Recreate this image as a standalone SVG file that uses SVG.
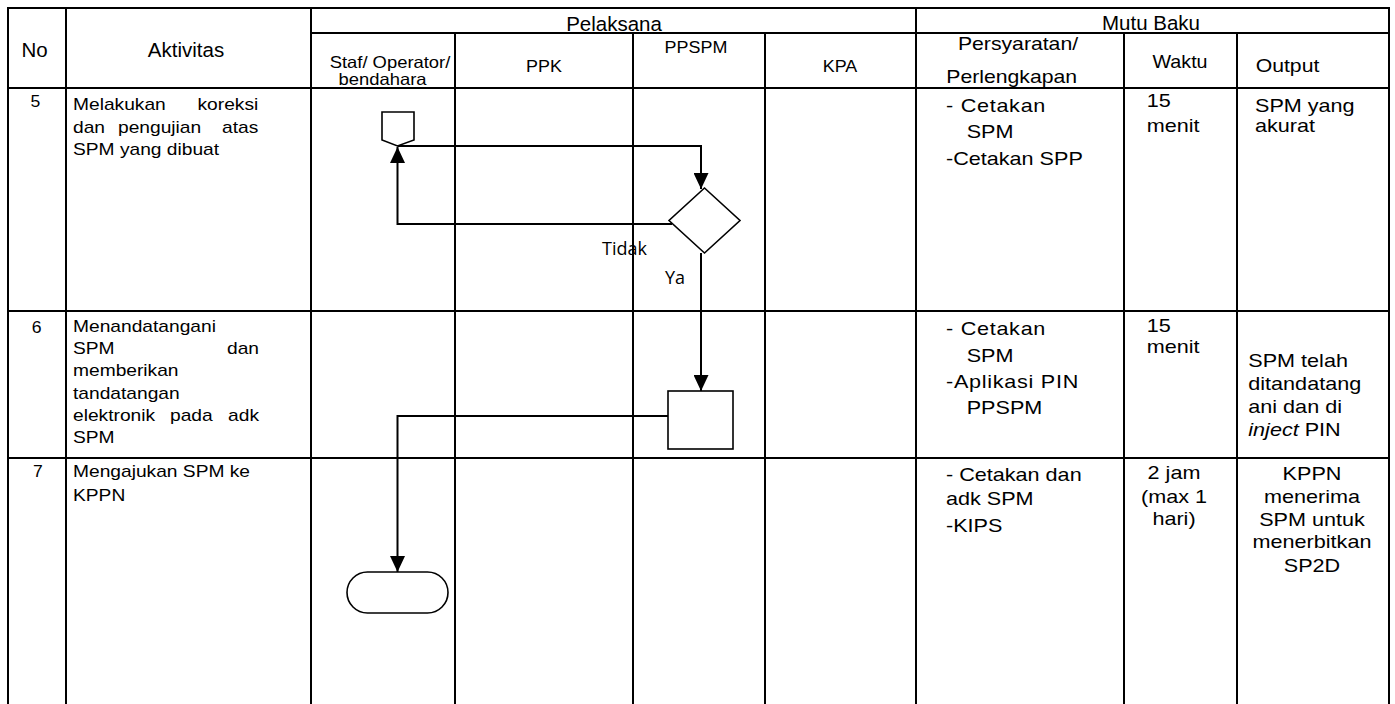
<svg xmlns="http://www.w3.org/2000/svg" width="1395" height="704" viewBox="0 0 1395 704">
<style>
.grid line{stroke:#000;stroke-width:2}
.shape{fill:#fff;stroke:#000;stroke-width:1.6}
.conn{fill:none;stroke:#000;stroke-width:2;marker-end:url(#arr)}
text{font-family:"Liberation Sans",Arial,sans-serif;fill:#000}
.h{font-size:20.5px}
.sh{font-size:16.3px}
.ph{font-size:18.6px}
.n{font-size:16px}
.b{font-size:16px}
.r{font-size:18px}
.sp{letter-spacing:0.6px}
.lbl{font-family:"Open Sans",sans-serif;font-size:18px}
.m{text-anchor:middle}
.e{text-anchor:end}
</style>
<defs>
<marker id="arr" viewBox="0 0 16 15" refX="16" refY="7.5" markerWidth="16" markerHeight="15" orient="auto" markerUnits="userSpaceOnUse"><path d="M0,0 L16,7.5 L0,15 z" fill="#000"/></marker>
</defs>
<rect width="1395" height="704" fill="#fff"/>
<g id="table" class="grid">
<line x1="7" y1="8" x2="1390" y2="8"/>
<line x1="311" y1="33" x2="1390" y2="33"/>
<line x1="7" y1="88" x2="1390" y2="88"/>
<line x1="7" y1="311" x2="1390" y2="311"/>
<line x1="7" y1="458" x2="1390" y2="458"/>
<line x1="8" y1="7" x2="8" y2="704"/>
<line x1="66" y1="8" x2="66" y2="704"/>
<line x1="311" y1="8" x2="311" y2="704"/>
<line x1="455" y1="33" x2="455" y2="704"/>
<line x1="633" y1="33" x2="633" y2="704"/>
<line x1="765" y1="33" x2="765" y2="704"/>
<line x1="916" y1="8" x2="916" y2="704"/>
<line x1="1124" y1="33" x2="1124" y2="704"/>
<line x1="1237" y1="33" x2="1237" y2="704"/>
<line x1="1389" y1="7" x2="1389" y2="704"/>
</g>
<g id="header">
<text class="h m" x="34.5" y="56.7">No</text>
<text class="h m" x="186" y="56.7">Aktivitas</text>
<text class="h m" x="614" y="30.5">Pelaksana</text>
<text class="h m" x="1151" y="30">Mutu Baku</text>
<text class="sh m" transform="translate(390 67.5) scale(1.13 1)">Staf/ Operator/</text>
<text class="sh m" transform="translate(382.5 85) scale(1.13 1)">bendahara</text>
<text class="sh m" transform="translate(544 71.7) scale(1.1 1)">PPK</text>
<text class="sh m" transform="translate(696 53.3) scale(1.1 1)">PPSPM</text>
<text class="sh m" transform="translate(840 71.7) scale(1.1 1)">KPA</text>
<text class="ph m" transform="translate(1018 49.5) scale(1.14 1)">Persyaratan/</text>
<text class="ph m" transform="translate(1011.7 82.5) scale(1.14 1)">Perlengkapan</text>
<text class="ph m" transform="translate(1180 68) scale(1.06 1)">Waktu</text>
<text class="ph m" transform="translate(1287.5 71.7) scale(1.14 1)">Output</text>
</g>
<g id="row5">
<text class="n m" transform="translate(35.3 106.7) scale(1.1 1)">5</text>
<text class="b" transform="translate(73 110) scale(1.2 1)">Melakukan</text>
<text class="b e" transform="translate(258.3 110) scale(1.2 1)">koreksi</text>
<text class="b" transform="translate(73 132.6) scale(1.2 1)">dan</text>
<text class="b" transform="translate(118 132.6) scale(1.2 1)">pengujian</text>
<text class="b e" transform="translate(258.3 132.6) scale(1.2 1)">atas</text>
<text class="b" transform="translate(73 155.2) scale(1.2 1)">SPM yang dibuat</text>
<text class="r sp" transform="translate(946 111.7) scale(1.2 1)">- Cetakan</text>
<text class="r" transform="translate(966.7 138.3) scale(1.2 1)">SPM</text>
<text class="r" transform="translate(946 165) scale(1.2 1)">-Cetakan SPP</text>
<text class="r" transform="translate(1146.7 107.3) scale(1.2 1)">15</text>
<text class="r" transform="translate(1146.7 132.3) scale(1.2 1)">menit</text>
<text class="r" transform="translate(1255 111.7) scale(1.2 1)">SPM yang</text>
<text class="r" transform="translate(1255 132.3) scale(1.2 1)">akurat</text>
</g>
<g id="row6">
<text class="n m" transform="translate(36.7 332.7) scale(1.1 1)">6</text>
<text class="b" transform="translate(73 331.7) scale(1.2 1)">Menandatangani</text>
<text class="b" transform="translate(73 354) scale(1.2 1)">SPM</text>
<text class="b e" transform="translate(259 354) scale(1.2 1)">dan</text>
<text class="b" transform="translate(73 376.3) scale(1.2 1)">memberikan</text>
<text class="b" transform="translate(73 398.6) scale(1.2 1)">tandatangan</text>
<text class="b" transform="translate(73 420.9) scale(1.2 1)">elektronik</text>
<text class="b" transform="translate(170 420.9) scale(1.2 1)">pada</text>
<text class="b e" transform="translate(259 420.9) scale(1.2 1)">adk</text>
<text class="b" transform="translate(73 443.2) scale(1.2 1)">SPM</text>
<text class="r sp" transform="translate(946 335) scale(1.2 1)">- Cetakan</text>
<text class="r" transform="translate(966.7 361.7) scale(1.2 1)">SPM</text>
<text class="r sp" transform="translate(946 388) scale(1.2 1)">-Aplikasi PIN</text>
<text class="r" transform="translate(966.7 414) scale(1.2 1)">PPSPM</text>
<text class="r" transform="translate(1146.7 331.7) scale(1.2 1)">15</text>
<text class="r" transform="translate(1146.7 353.3) scale(1.2 1)">menit</text>
<text class="r" transform="translate(1248.3 367) scale(1.2 1)">SPM telah</text>
<text class="r" transform="translate(1248.3 390) scale(1.2 1)">ditandatang</text>
<text class="r" transform="translate(1248.3 413) scale(1.2 1)">ani dan di</text>
<text class="r" transform="translate(1248.3 436) scale(1.2 1)"><tspan font-style="italic">inject</tspan> PIN</text>
</g>
<g id="row7">
<text class="n m" transform="translate(38 476.7) scale(1.1 1)">7</text>
<text class="b" transform="translate(73 477.3) scale(1.2 1)">Mengajukan SPM ke</text>
<text class="b" transform="translate(73 501) scale(1.2 1)">KPPN</text>
<text class="r" transform="translate(946 480.7) scale(1.2 1)">- Cetakan dan</text>
<text class="r" transform="translate(946 505) scale(1.2 1)">adk SPM</text>
<text class="r" transform="translate(946 531.7) scale(1.2 1)">-KIPS</text>
<text class="r m" transform="translate(1174 479.3) scale(1.2 1)">2 jam</text>
<text class="r m" transform="translate(1174 503.3) scale(1.2 1)">(max 1</text>
<text class="r m" transform="translate(1174 525) scale(1.2 1)">hari)</text>
<text class="r m" transform="translate(1312 480) scale(1.2 1)">KPPN</text>
<text class="r m" transform="translate(1312 503.3) scale(1.2 1)">menerima</text>
<text class="r m" transform="translate(1312 526) scale(1.2 1)">SPM untuk</text>
<text class="r m" transform="translate(1312 548.3) scale(1.2 1)">menerbitkan</text>
<text class="r m" transform="translate(1312 571.7) scale(1.2 1)">SP2D</text>
</g>
<g id="connectors">
<path class="conn" d="M397.5,146 H701 V189"/>
<path class="conn" d="M672,224 H397.5 V147"/>
<path class="conn" d="M701,253 V391"/>
<path class="conn" d="M668,416 H397.5 V572"/>
<text class="lbl" x="602" y="255">Tidak</text>
<text class="lbl" x="665" y="283.5">Ya</text>
</g>
<g id="node-offpage">
<polygon class="shape" points="382,112 414,112 414,140 397.5,146 382,140"/>
</g>
<g id="node-decision">
<polygon class="shape" points="704.5,188 740,220.5 704.5,253 669,220.5"/>
</g>
<g id="node-process">
<rect class="shape" x="668" y="391" width="65" height="58"/>
</g>
<g id="node-terminator">
<rect class="shape" x="347" y="572" width="101" height="41" rx="20.5" ry="20.5"/>
</g>
</svg>
